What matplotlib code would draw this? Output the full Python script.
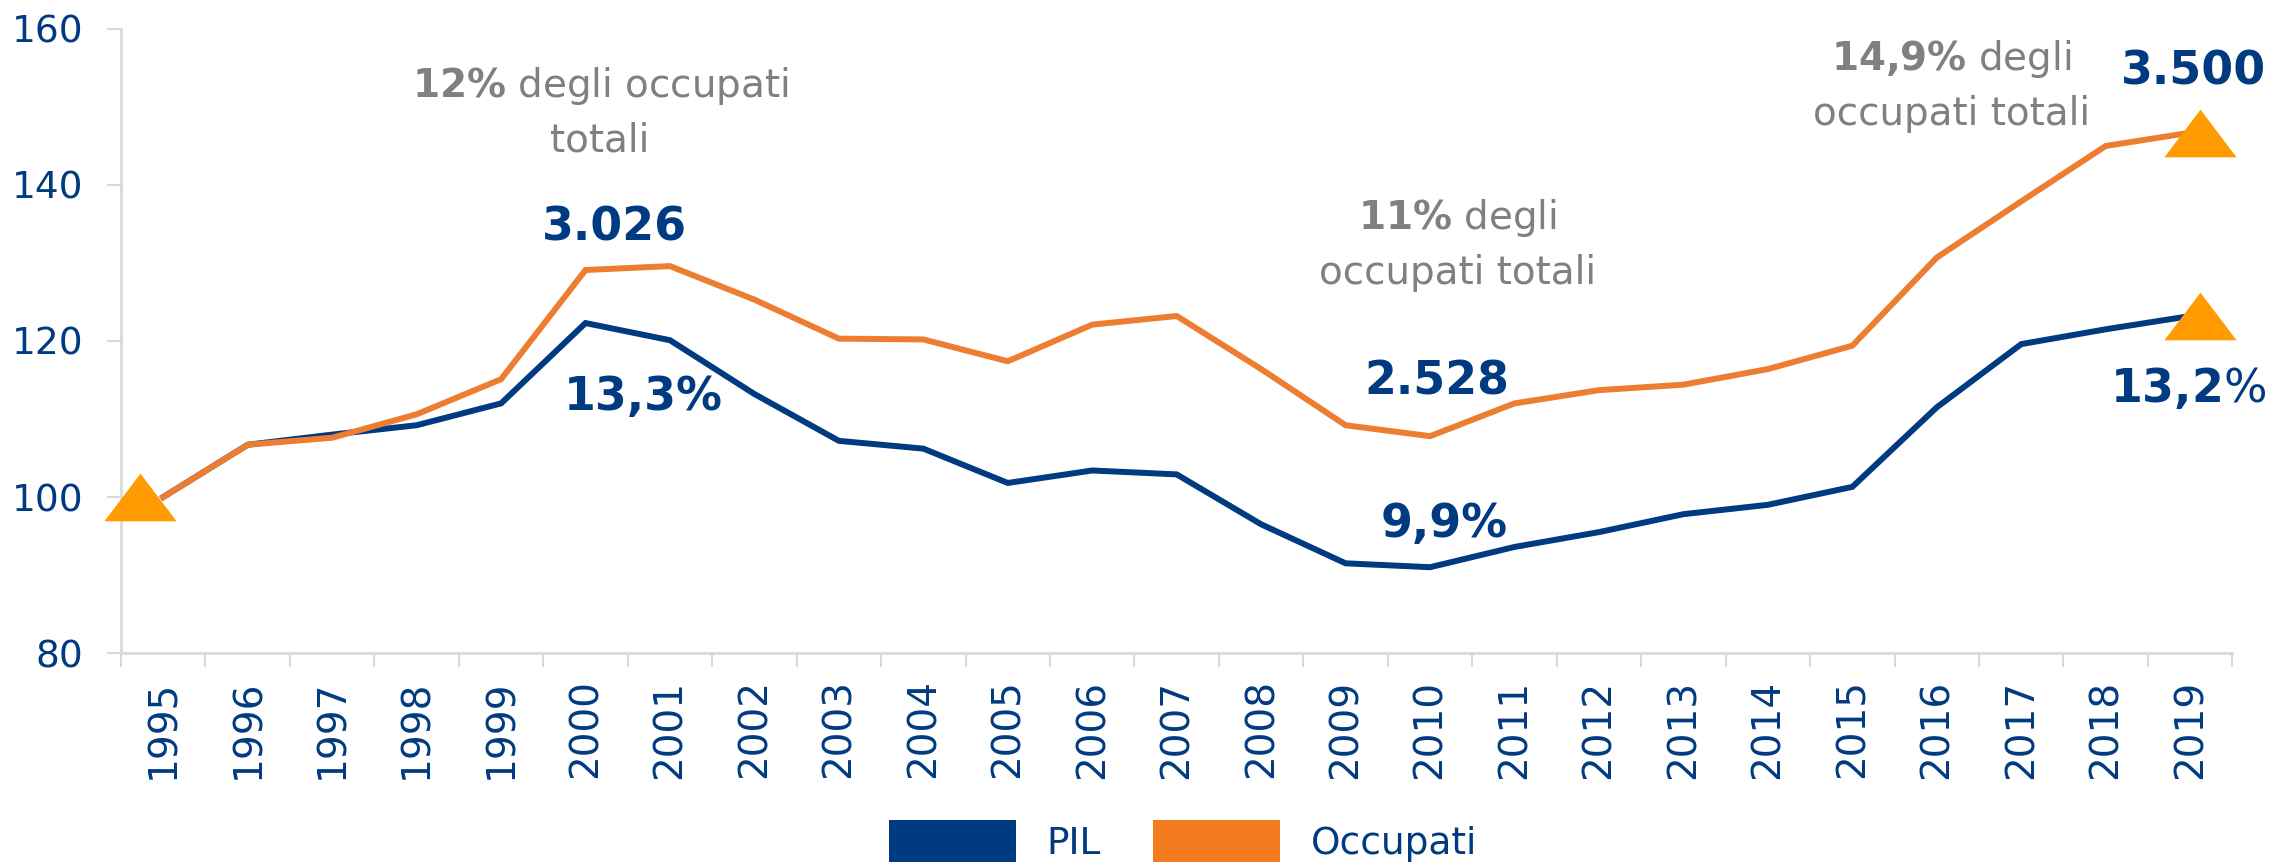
import numpy as np
import matplotlib
matplotlib.use("Agg")
import matplotlib.pyplot as plt
from matplotlib.patches import Patch

# -----------------------------
# Data (index 1995 = 100)
# -----------------------------
years = [str(y) for y in range(1995, 2020)]
pil = [100.0, 106.7, 108.0, 109.2, 112.0, 122.3, 120.1, 113.2, 107.2, 106.2,
       101.8, 103.4, 102.9, 96.5, 91.5, 91.0, 93.6, 95.5, 97.8, 99.0,
       101.3, 111.5, 119.6, 121.5, 123.2]
occupati = [100.0, 106.7, 107.6, 110.6, 115.1, 129.1, 129.6, 125.3, 120.3, 120.2,
            117.4, 122.1, 123.2, 116.4, 109.2, 107.8, 112.0, 113.7, 114.4, 116.4,
            119.4, 130.7, 137.9, 145.0, 146.7]

# highlighted end points (triangles)
tri_x = [-0.28, 24.12, 24.12]
tri_y = [100.0, 146.7, 123.2]

BLUE = "#003A80"
ORANGE = "#ED7D31"
TRI = "#FF9B00"
GREY = "#808080"
AXIS = "#D9D9D9"

plt.rcParams["font.family"] = ["DejaVu Sans"]

fig = plt.figure(figsize=(22.92, 8.67), dpi=100)
ax = fig.add_axes([0.0528, 0.2468, 0.9212, 0.7198])

x = np.arange(len(years))
ax.plot(x, pil, color=BLUE, lw=4.3, solid_joinstyle="miter", zorder=3)
ax.plot(x, occupati, color=ORANGE, lw=4.3, solid_joinstyle="miter", zorder=4)

# wide flat triangle marker
tri = [(-1, -0.66), (0, 0.66), (1, -0.66), (-1, -0.66)]
ax.scatter(tri_x, tri_y, marker=tri, s=52 ** 2, color=TRI, zorder=5,
           linewidths=0, clip_on=False)

ax.set_xlim(-0.5, 24.5)
ax.set_ylim(80, 160)
ax.set_yticks([80, 100, 120, 140, 160])

ax.set_xticks(x)
ax.set_xticklabels(years, rotation=90)
ax.set_xticks(np.arange(-0.5, 25, 1), minor=True)
ax.tick_params(axis="x", which="major", length=0, pad=19, labelsize=28, labelcolor=BLUE)
ax.tick_params(axis="x", which="minor", length=10, width=1.5, color=AXIS)
ax.tick_params(axis="y", length=10, width=1.5, color=AXIS, pad=17, labelsize=27, labelcolor=BLUE)

for s in ["top", "right"]:
    ax.spines[s].set_visible(False)
for s in ["left", "bottom"]:
    ax.spines[s].set_color(AXIS)
    ax.spines[s].set_linewidth(2)

# -----------------------------
# Annotations
# -----------------------------
grey_kw = dict(color=GREY, fontsize=28, ha="center", va="center", linespacing=1.5)
ax.text(5.17, 149.3, "$\\mathbf{12\\%}$ degli occupati\ntotali", **grey_kw)
ax.text(15.32, 132.4, "$\\mathbf{11\\%}$ degli\noccupati totali", **grey_kw)
ax.text(21.17, 152.8, "$\\mathbf{14{,}9\\%}$ degli\noccupati totali", **grey_kw)

blue_kw = dict(color=BLUE, fontsize=33, fontweight="bold", ha="center", va="center")
ax.text(5.34, 134.5, "3.026", **blue_kw)
ax.text(5.68, 112.8, "13,3%", **blue_kw)
ax.text(15.08, 114.7, "2.528", **blue_kw)
ax.text(15.17, 96.5, "9,9%", **blue_kw)
ax.text(24.04, 154.5, "3.500", **blue_kw)
ax.text(23.98, 113.9, "$\\mathbf{13{,}2}$%", color=BLUE, fontsize=33, ha="center", va="center")

# -----------------------------
# Legend
# -----------------------------
handles = [Patch(facecolor=BLUE, edgecolor="none", label="PIL"),
           Patch(facecolor="#F47B20", edgecolor="none", label="Occupati")]
fig.legend(handles=handles, loc="center", bbox_to_anchor=(0.516, 0.03), ncol=2,
           frameon=False, fontsize=27, labelcolor=BLUE, handlelength=3.4,
           handleheight=1.35, handletextpad=0.8, columnspacing=1.4)

fig.savefig("out.png", dpi=100)
